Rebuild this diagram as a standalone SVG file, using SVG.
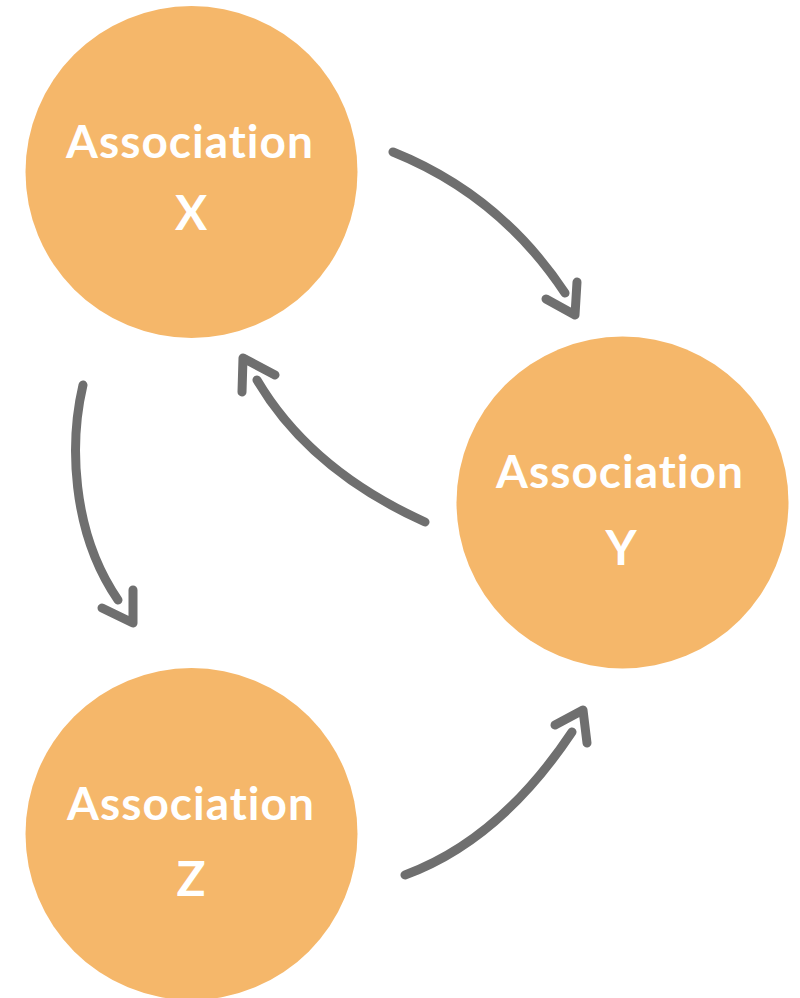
<svg xmlns="http://www.w3.org/2000/svg" width="800" height="998" viewBox="0 0 800 998">
<style>
.node{fill:#F5B76A}
.lbl{font-family:Lato,"Open Sans","Liberation Sans",sans-serif;font-weight:700;fill:#fff;text-anchor:middle}
.a{font-size:46px;letter-spacing:1px}
.b{font-size:48px}
.c{fill:none;stroke:#6f6f6f;stroke-width:9;stroke-linecap:round;stroke-linejoin:round}
</style>
<rect width="800" height="998" fill="#fff"/>
<g id="nodeX">
<circle class="node" cx="191.5" cy="172" r="166"/>
<text class="lbl a" x="190" y="158">Association</text>
<text class="lbl b" x="191" y="230">X</text>
</g>
<g id="nodeY">
<circle class="node" cx="622.5" cy="502.5" r="166"/>
<text class="lbl a" x="620" y="488">Association</text>
<text class="lbl b" x="621" y="565">Y</text>
</g>
<g id="nodeZ">
<circle class="node" cx="191.5" cy="834" r="166"/>
<text class="lbl a" x="191" y="820">Association</text>
<text class="lbl b" x="191" y="896">Z</text>
</g>
<g id="connectors">
<path class="c" d="M393,152 Q500,195 565,293"/>
<path class="c" d="M546,299 L575,315 L577,282"/>
<path class="c" d="M425,522 Q310,470 257,380"/>
<path class="c" d="M242,392 L243,358 L275,375"/>
<path class="c" d="M83,385 C70,440 70,530 118,600"/>
<path class="c" d="M102,608 L133,623 L133,590"/>
<path class="c" d="M405,875 Q500,840 572,732"/>
<path class="c" d="M555,725 L583,710 L587,743"/>
</g>
</svg>
